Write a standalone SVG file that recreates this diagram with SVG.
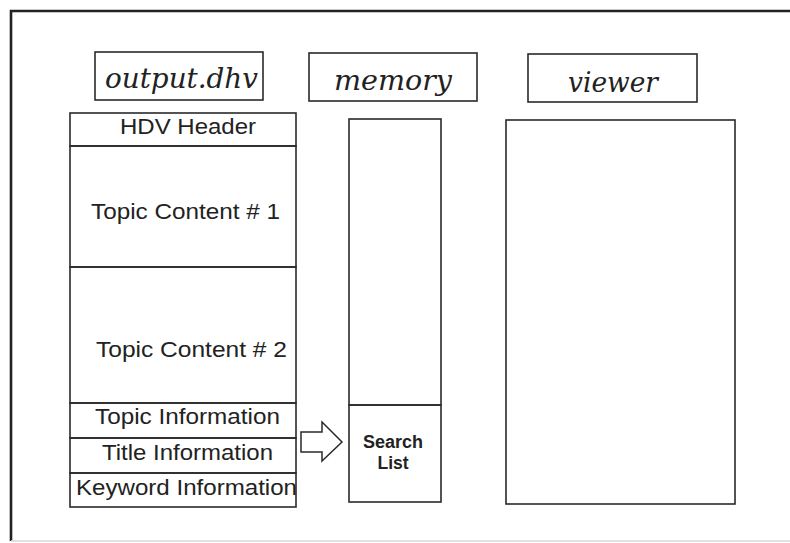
<svg xmlns="http://www.w3.org/2000/svg" width="790" height="543" viewBox="0 0 790 543">
  <style>
    .frame { fill: none; stroke: #2a2a2a; stroke-width: 1.6; }
    .title { font-family: "DejaVu Serif", "Liberation Serif", serif; font-style: italic; font-size: 27px; fill: #222; }
    .lbl { font-family: "Liberation Sans", Arial, sans-serif; font-size: 22.5px; fill: #222; }
    .bold { font-family: "Liberation Sans", Arial, sans-serif; font-size: 17.5px; font-weight: bold; fill: #222; text-anchor: middle; }
  </style>
  <rect width="790" height="543" fill="#ffffff"/>

  <!-- outer border (runs off the right edge) -->
  <path d="M 795 11 L 11 11 L 11 541" fill="none" stroke="#222" stroke-width="2.6"/>
  <path d="M 11 541 L 795 541" fill="none" stroke="#d8d8d8" stroke-width="1.5"/>

  <!-- column headings -->
  <g id="head-output">
    <rect class="frame" x="95" y="52" width="168" height="48"/>
    <text class="title" x="105" y="88" textLength="153" lengthAdjust="spacingAndGlyphs">output.dhv</text>
  </g>
  <g id="head-memory">
    <rect class="frame" x="309" y="53" width="168" height="48"/>
    <text class="title" x="334" y="90" textLength="118" lengthAdjust="spacingAndGlyphs">memory</text>
  </g>
  <g id="head-viewer">
    <rect class="frame" x="528" y="54" width="169" height="48"/>
    <text class="title" x="568" y="92" textLength="90" lengthAdjust="spacingAndGlyphs">viewer</text>
  </g>

  <!-- output.dhv file layout -->
  <g id="file-hdv-header">
    <rect class="frame" x="70" y="113" width="226" height="33"/>
    <text class="lbl" x="120" y="134" textLength="136" lengthAdjust="spacingAndGlyphs">HDV Header</text>
  </g>
  <g id="file-topic-content-1">
    <rect class="frame" x="70" y="146" width="226" height="121"/>
    <text class="lbl" x="91" y="219" textLength="189" lengthAdjust="spacingAndGlyphs">Topic Content # 1</text>
  </g>
  <g id="file-topic-content-2">
    <rect class="frame" x="70" y="267" width="226" height="136"/>
    <text class="lbl" x="96" y="357" textLength="191" lengthAdjust="spacingAndGlyphs">Topic Content # 2</text>
  </g>
  <g id="file-topic-info">
    <rect class="frame" x="70" y="403" width="226" height="35"/>
    <text class="lbl" x="95" y="424" textLength="185" lengthAdjust="spacingAndGlyphs">Topic Information</text>
  </g>
  <g id="file-title-info">
    <rect class="frame" x="70" y="438" width="226" height="35"/>
    <text class="lbl" x="102" y="460" textLength="171" lengthAdjust="spacingAndGlyphs">Title Information</text>
  </g>
  <g id="file-keyword-info">
    <rect class="frame" x="70" y="473" width="226" height="34"/>
    <text class="lbl" x="76" y="495" textLength="221" lengthAdjust="spacingAndGlyphs">Keyword Information</text>
  </g>

  <!-- memory column -->
  <g id="memory-area">
    <rect class="frame" x="349" y="119" width="92" height="286"/>
  </g>
  <g id="memory-search-list">
    <rect class="frame" x="349" y="405" width="92" height="97"/>
    <text class="bold" x="393" y="448" textLength="60" lengthAdjust="spacingAndGlyphs">Search</text>
    <text class="bold" x="393" y="469">List</text>
  </g>

  <!-- viewer window -->
  <g id="viewer-window">
    <rect class="frame" x="506" y="120" width="229" height="384"/>
  </g>

  <!-- block arrow: keyword/title info loaded into the search list -->
  <g id="connectors">
    <path d="M 301 432 L 322 432 L 322 422 L 342 442 L 322 461 L 322 452 L 301 452 Z" fill="#ffffff" stroke="#2a2a2a" stroke-width="1.5" stroke-linejoin="miter"/>
  </g>
</svg>
